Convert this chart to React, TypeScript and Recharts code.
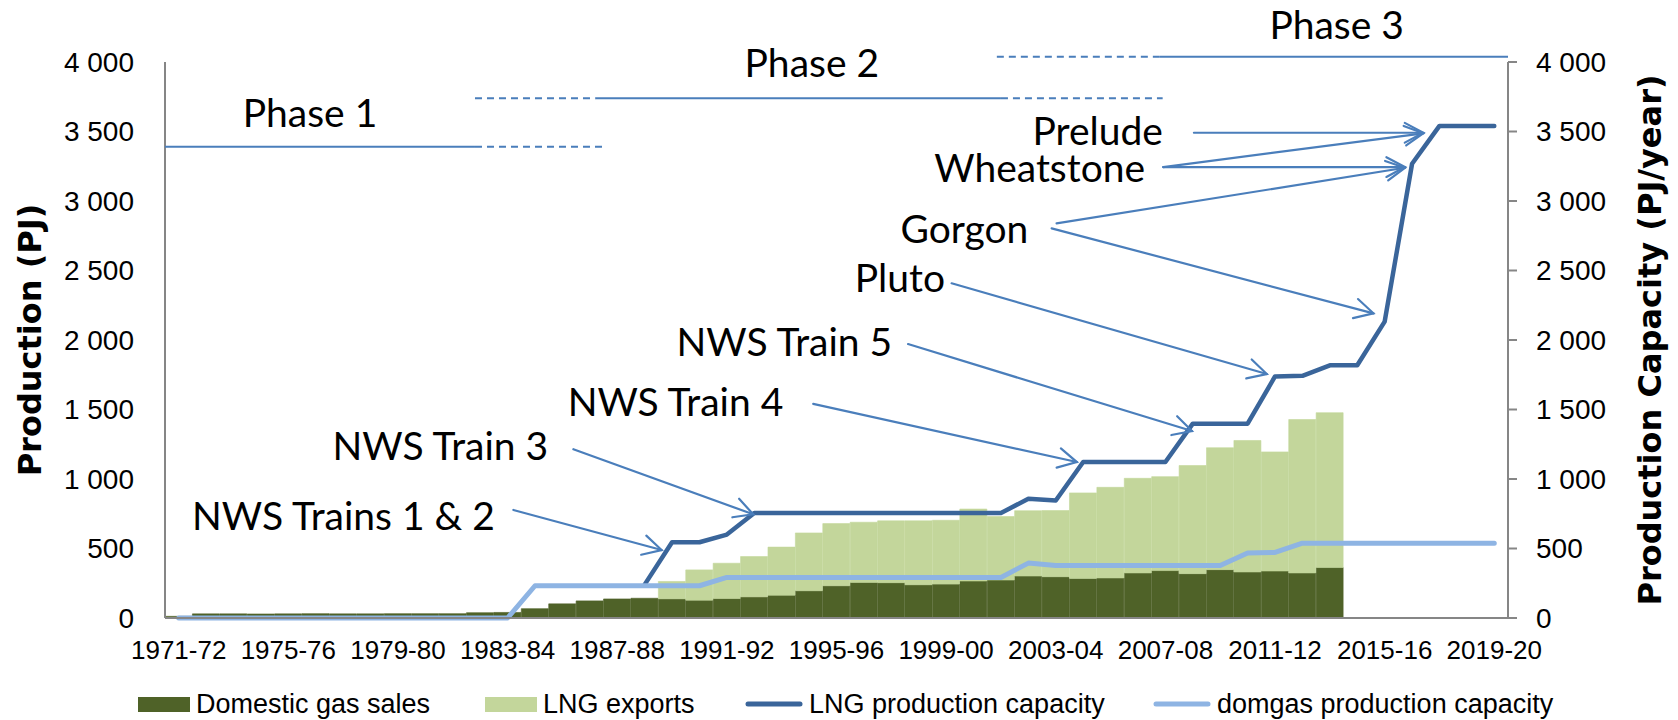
import React from 'react';
import { ComposedChart, Bar, Line, XAxis, YAxis, Legend } from 'recharts';

const CATEGORIES = [
  '1971-72', '1972-73', '1973-74', '1974-75', '1975-76', '1976-77', '1977-78', '1978-79',
  '1979-80', '1980-81', '1981-82', '1982-83', '1983-84', '1984-85', '1985-86', '1986-87',
  '1987-88', '1988-89', '1989-90', '1990-91', '1991-92', '1992-93', '1993-94', '1994-95',
  '1995-96', '1996-97', '1997-98', '1998-99', '1999-00', '2000-01', '2001-02', '2002-03',
  '2003-04', '2004-05', '2005-06', '2006-07', '2007-08', '2008-09', '2009-10', '2010-11',
  '2011-12', '2012-13', '2013-14', '2014-15', '2015-16', '2016-17', '2017-18', '2018-19',
  '2019-20',
];

const DOMESTIC_GAS_SALES = [
  12, 30, 30, 29, 30, 31, 30, 30, 31, 31, 31, 38, 40, 67, 102, 123, 137, 142, 138, 128,
  140, 152, 164, 196, 232, 256, 254, 239, 244, 266, 273, 302, 297, 285, 288, 324, 341, 319,
  348, 331, 338, 324, 363, null, null, null, null, null, null,
];

const LNG_EXPORTS = [
  null, null, null, null, null, null, null, null, null, null, null, null, null, null, null,
  null, null, null, 125, 218, 254, 290, 346, 416, 447, 433, 445, 460, 459, 518, 457, 470,
  476, 615, 652, 681, 676, 778, 877, 946, 857, 1104, 1114, null, null, null, null, null, null,
];

const LNG_CAPACITY = [
  null, null, null, null, null, null, null, null, null, null, null, null, null, null, null,
  null, null, 240, 545, 545, 600, 755, 755, 755, 755, 755, 755, 755, 755, 755, 755, 858,
  845, 1122, 1122, 1122, 1122, 1398, 1398, 1398, 1738, 1742, 1818, 1818, 2132, 3268, 3540,
  3540, 3540,
];

const DOMGAS_CAPACITY = [
  0, 0, 0, 0, 0, 0, 0, 0, 0, 0, 0, 0, 0, 232, 232, 232, 232, 232, 232, 232, 292, 292, 292,
  292, 292, 292, 292, 292, 292, 292, 292, 395, 377, 377, 377, 377, 377, 377, 377, 467, 472,
  538, 538, 538, 538, 538, 538, 538, 538,
];

const Y_TICKS = [0, 500, 1000, 1500, 2000, 2500, 3000, 3500, 4000];
const Y_MAX = 4000;

// Annotation layer (positions in category units from the plot's left edge, and axis values)
const PHASE_SEGMENTS = [
  { value: 3390, from: 0, to: 11.31, dashed: false },
  { value: 3390, from: 11.31, to: 16.0, dashed: true },
  { value: 3740, from: 11.31, to: 15.7, dashed: true },
  { value: 3740, from: 15.7, to: 30.5, dashed: false },
  { value: 3740, from: 30.5, to: 36.4, dashed: true },
  { value: 4038, from: 30.35, to: 36.3, dashed: true },
  { value: 4038, from: 36.3, to: 49, dashed: false },
];
const PHASE_LABELS = [
  { text: 'Phase 1', pos: 5.29, value: 3534 },
  { text: 'Phase 2', pos: 23.6, value: 3892 },
  { text: 'Phase 3', pos: 42.75, value: 4165 },
];
const CALLOUTS = [
  { text: 'NWS Trains 1 & 2', pos: 12.04, value: 633, arrows: [[12.71, 777, 18.12, 489]] },
  { text: 'NWS Train 3', pos: 13.98, value: 1137, arrows: [[14.9, 1214, 21.46, 746]] },
  { text: 'NWS Train 4', pos: 22.56, value: 1453, arrows: [[23.65, 1540, 33.27, 1122]] },
  { text: 'NWS Train 5', pos: 26.53, value: 1885, arrows: [[27.11, 1971, 37.47, 1345]] },
  { text: 'Pluto', pos: 28.46, value: 2347, arrows: [[28.7, 2408, 40.2, 1755]] },
  { text: 'Gorgon', pos: 31.5, value: 2696, arrows: [[32.53, 2839, 45.24, 3239], [32.35, 2803, 44.09, 2192]] },
  { text: 'Wheatstone', pos: 35.76, value: 3139, arrows: [[36.42, 3244, 45.91, 3487], [36.42, 3244, 45.24, 3244]] },
  { text: 'Prelude', pos: 36.41, value: 3403, arrows: [[37.54, 3491, 45.91, 3491]] },
];

const LEGEND_ITEMS = [
  { label: 'Domestic gas sales', color: '#4F6228', kind: 'rect', x: 138 },
  { label: 'LNG exports', color: '#C3D69B', kind: 'rect', x: 485 },
  { label: 'LNG production capacity', color: '#3A659A', kind: 'line', x: 745 },
  { label: 'domgas production capacity', color: '#8EB4E3', kind: 'line', x: 1153 },
];

const W = 1678;
const H = 720;
const PLOT_LEFT = 165;
const PLOT_RIGHT = 1508;
const PLOT_TOP = 62;
const PLOT_BOTTOM = 618;
const PLOT_W = PLOT_RIGHT - PLOT_LEFT;
const PLOT_H = PLOT_BOTTOM - PLOT_TOP;

const FONT_TICK = '"Liberation Sans", Arial, sans-serif';
const FONT_NOTE = 'Lato, "Open Sans", sans-serif';
const FONT_TITLE = '"DejaVu Sans", Verdana, sans-serif';
const NOTE_COLOR = '#4A7EBB';
const AXIS_COLOR = '#868686';
const NOTE_SIZE = 39;

const rows = CATEGORIES.map((cat, i) => ({
  cat,
  domestic: DOMESTIC_GAS_SALES[i],
  lng: LNG_EXPORTS[i],
  lngCap: LNG_CAPACITY[i],
  domCap: DOMGAS_CAPACITY[i],
}));

const fmt = (v: number) =>
  v >= 1000 ? `${Math.floor(v / 1000)} ${String(v % 1000).padStart(3, '0')}` : `${v}`;

const xAt = (pos: number) => PLOT_LEFT + (pos * PLOT_W) / CATEGORIES.length;
const yAt = (v: number) => PLOT_BOTTOM - (v / Y_MAX) * PLOT_H;

function Arrow({ a }: { a: number[] }) {
  const x1 = xAt(a[0]);
  const y1 = yAt(a[1]);
  const x2 = xAt(a[2]);
  const y2 = yAt(a[3]);
  const th = Math.atan2(y2 - y1, x2 - x1);
  const L = 21;
  const phi = (28 * Math.PI) / 180;
  const w1 = [x2 - L * Math.cos(th - phi), y2 - L * Math.sin(th - phi)];
  const w2 = [x2 - L * Math.cos(th + phi), y2 - L * Math.sin(th + phi)];
  return (
    <g stroke={NOTE_COLOR} strokeWidth={2.2} fill="none" strokeLinecap="round">
      <line x1={x1} y1={y1} x2={x2} y2={y2} />
      <polyline points={`${w1[0]},${w1[1]} ${x2},${y2} ${w2[0]},${w2[1]}`} strokeLinejoin="miter" />
    </g>
  );
}

function Overlay() {
  return (
    <svg
      width={W}
      height={H}
      style={{ position: 'absolute', left: 0, top: 0, pointerEvents: 'none' }}
    >
      {PHASE_SEGMENTS.map((s, i) => (
        <line
          key={'ph' + i}
          x1={xAt(s.from)}
          x2={xAt(s.to)}
          y1={yAt(s.value)}
          y2={yAt(s.value)}
          stroke={NOTE_COLOR}
          strokeWidth={2}
          strokeDasharray={s.dashed ? '7 5' : undefined}
        />
      ))}
      {PHASE_LABELS.map((p, i) => (
        <text
          key={'pl' + i}
          x={xAt(p.pos)}
          y={yAt(p.value)}
          textAnchor="middle"
          fontFamily={FONT_NOTE}
          fontSize={NOTE_SIZE}
          fill="#000"
        >
          {p.text}
        </text>
      ))}
      {CALLOUTS.map((c, i) => (
        <g key={'co' + i}>
          <text
            x={xAt(c.pos)}
            y={yAt(c.value)}
            textAnchor="end"
            fontFamily={FONT_NOTE}
            fontSize={NOTE_SIZE}
            fill="#000"
          >
            {c.text}
          </text>
          {c.arrows.map((a, j) => (
            <Arrow key={j} a={a} />
          ))}
        </g>
      ))}
      <text
        transform={`translate(30, 340) rotate(-90)`}
        textAnchor="middle"
        dominantBaseline="central"
        fontFamily={FONT_TITLE}
        fontWeight="bold"
        fontSize={32}
        fill="#000"
      >
        Production (PJ)
      </text>
      <text
        transform={`translate(1650, 340) rotate(-90)`}
        textAnchor="middle"
        dominantBaseline="central"
        fontFamily={FONT_TITLE}
        fontWeight="bold"
        fontSize={32}
        fill="#000"
      >
        Production Capacity (PJ/year)
      </text>
    </svg>
  );
}

function LegendContent() {
  return (
    <div style={{ position: 'relative', width: W, height: 40 }}>
      {LEGEND_ITEMS.map((it) => (
        <div
          key={it.label}
          style={{
            position: 'absolute',
            left: it.x,
            top: 0,
            height: 40,
            display: 'flex',
            alignItems: 'center',
            whiteSpace: 'nowrap',
          }}
        >
          {it.kind === 'rect' ? (
            <div style={{ width: 52, height: 15, background: it.color }} />
          ) : (
            <svg width={58} height={10}>
              <line x1={3} x2={55} y1={5} y2={5} stroke={it.color} strokeWidth={5} strokeLinecap="round" />
            </svg>
          )}
          <span
            style={{
              marginLeft: 6,
              fontFamily: FONT_TICK,
              fontSize: 27,
              color: '#000',
            }}
          >
            {it.label}
          </span>
        </div>
      ))}
    </div>
  );
}

export default function App() {
  return (
    <div style={{ position: 'absolute', left: 0, top: 0, width: W, height: H, background: '#fff' }}>
      <ComposedChart
        width={W}
        height={H}
        data={rows}
        margin={{ top: PLOT_TOP, right: 0, bottom: 0, left: 0 }}
        barCategoryGap={0}
        barGap={0}
      >
        <XAxis
          dataKey="cat"
          interval={3}
          height={62}
          tickLine={false}
          tickSize={6}
          tickMargin={17}
          axisLine={{ stroke: AXIS_COLOR, strokeWidth: 2 }}
          tick={{ fontSize: 26, fill: '#000', fontFamily: FONT_TICK }}
        />
        <YAxis
          yAxisId="left"
          orientation="left"
          width={PLOT_LEFT}
          domain={[0, Y_MAX]}
          ticks={Y_TICKS}
          tickFormatter={fmt}
          tickLine={false}
          tickSize={6}
          tickMargin={25}
          axisLine={{ stroke: AXIS_COLOR, strokeWidth: 2 }}
          tick={{ fontSize: 28, fill: '#000', fontFamily: FONT_TICK }}
        />
        <YAxis
          yAxisId="right"
          orientation="right"
          width={W - PLOT_RIGHT}
          domain={[0, Y_MAX]}
          ticks={Y_TICKS}
          tickFormatter={fmt}
          tickLine={{ stroke: AXIS_COLOR, strokeWidth: 2 }}
          tickSize={9}
          tickMargin={19}
          axisLine={{ stroke: AXIS_COLOR, strokeWidth: 2 }}
          tick={{ fontSize: 28, fill: '#000', fontFamily: FONT_TICK, textAnchor: 'start' }}
        />
        <Legend
          verticalAlign="bottom"
          content={() => <LegendContent />}
          wrapperStyle={{ left: 0, top: 684, width: W, height: 40 }}
        />
        <Bar
          yAxisId="left"
          dataKey="domestic"
          name="Domestic gas sales"
          stackId="prod"
          fill="#4F6228"
          stroke="#4F6228"
          strokeWidth={0.6}
          isAnimationActive={false}
        />
        <Bar
          yAxisId="left"
          dataKey="lng"
          name="LNG exports"
          stackId="prod"
          fill="#C3D69B"
          stroke="#C3D69B"
          strokeWidth={0.6}
          isAnimationActive={false}
        />
        <Line
          yAxisId="right"
          dataKey="lngCap"
          name="LNG production capacity"
          type="linear"
          stroke="#3A659A"
          strokeWidth={4.5}
          strokeLinecap="round"
          strokeLinejoin="round"
          dot={false}
          activeDot={false}
          isAnimationActive={false}
        />
        <Line
          yAxisId="right"
          dataKey="domCap"
          name="domgas production capacity"
          type="linear"
          stroke="#8EB4E3"
          strokeWidth={5}
          strokeLinecap="round"
          strokeLinejoin="round"
          dot={false}
          activeDot={false}
          isAnimationActive={false}
        />
      </ComposedChart>
      <Overlay />
    </div>
  );
}
